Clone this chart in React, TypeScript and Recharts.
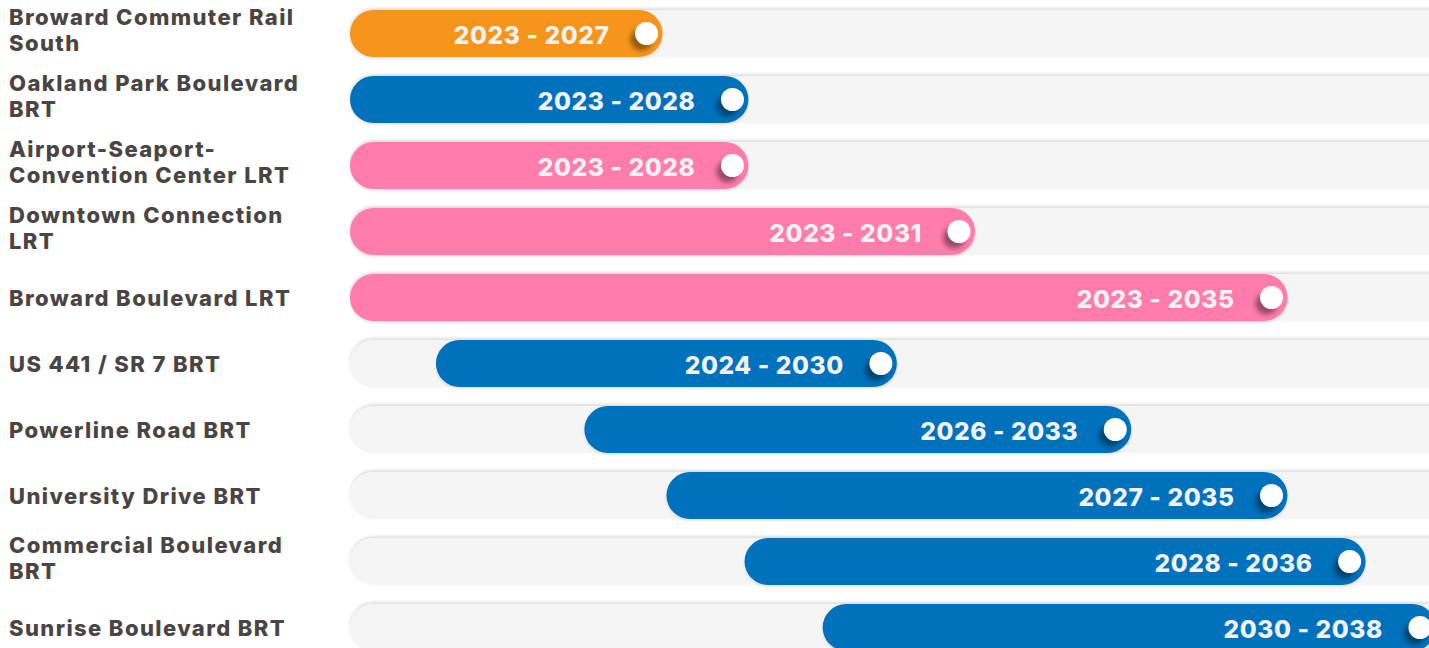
import React from 'react';
import { BarChart, Bar, XAxis, YAxis } from 'recharts';

const projects = [
  'Broward Commuter Rail\nSouth',
  'Oakland Park Boulevard\nBRT',
  'Airport-Seaport-\nConvention Center LRT',
  'Downtown Connection\nLRT',
  'Broward Boulevard LRT',
  'US 441 / SR 7 BRT',
  'Powerline Road BRT',
  'University Drive BRT',
  'Commercial Boulevard\nBRT',
  'Sunrise Boulevard BRT',
];
const rangeLabels = [
  '2023 - 2027', '2023 - 2028', '2023 - 2028', '2023 - 2031', '2023 - 2035',
  '2024 - 2030', '2026 - 2033', '2027 - 2035', '2028 - 2036', '2030 - 2038',
];
// bar extents as drawn in the picture (years)
const startYears = [2023, 2023, 2023, 2023, 2023, 2024.1, 2026, 2027.05, 2028.05, 2029.05];
const endYears = [2027, 2028.1, 2028.1, 2031, 2035, 2030, 2033, 2035, 2036, 2036.9];
const modes = ['rail', 'brt', 'lrt', 'lrt', 'lrt', 'brt', 'brt', 'brt', 'brt', 'brt'];

const modeColors: Record<string, string> = {
  rail: '#f7941d',
  brt: '#0071bc',
  lrt: '#ff7bac',
};

const data = projects.map((name, i) => ({
  name,
  range: [startYears[i], endYears[i]],
  label: rangeLabels[i],
  mode: modes[i],
}));

const NameTick = (props: any) => {
  const { y, payload } = props;
  const lines = String(payload.value).split('\n');
  const lh = 26;
  const top = lines.length > 1 ? y - 16 : y + 1;
  return (
    <text
      x={9}
      y={top}
      fill="#4a4545"
      fontFamily="Inter, 'Noto Sans', sans-serif"
      fontWeight={800}
      fontSize={22}
      letterSpacing={1.4}
      dominantBaseline="central"
    >
      {lines.map((l, k) => (
        <tspan key={k} x={9} y={top + k * lh} dominantBaseline="central">
          {l}
        </tspan>
      ))}
    </text>
  );
};

const Track = (props: any) => {
  const { x, y, width, height } = props;
  return (
    <rect
      x={x}
      y={y}
      width={width}
      height={height}
      rx={height / 2}
      fill="#f5f5f5"
      filter="url(#trackShadow)"
    />
  );
};

const RangeBar = (props: any) => {
  const { x, y, width, height, payload } = props;
  const r = height / 2;
  const cy = y + r;
  const knobX = x + width - 16;
  return (
    <g>
      <rect
        x={x}
        y={y}
        width={width}
        height={height}
        rx={r}
        fill={modeColors[payload.mode]}
        filter="url(#barShadow)"
      />
      <text
        x={knobX - 37}
        y={cy + 1}
        textAnchor="end"
        dominantBaseline="central"
        fill="#f2f2f2"
        fontFamily="Inter, 'Noto Sans', sans-serif"
        fontWeight={800}
        fontSize={24.5}
        letterSpacing={0.6}
      >
        {payload.label}
      </text>
      <ellipse cx={knobX - 5} cy={cy + 6} rx={11} ry={11} fill="#000" opacity={0.4} filter="url(#knobBlur)" />
      <circle cx={knobX} cy={cy} r={11.5} fill="#ffffff" />
    </g>
  );
};

export default function App() {
  return (
    <div
      style={{
        position: 'absolute',
        left: 0,
        top: 0,
        width: 1429,
        height: 648,
        overflow: 'hidden',
        background: '#ffffff',
      }}
    >
      <svg width={0} height={0} style={{ position: 'absolute' }}>
        <defs>
          <filter id="trackShadow" x="-5%" y="-40%" width="110%" height="180%">
            <feDropShadow dx={0} dy={-1.5} stdDeviation={1.6} floodColor="#000" floodOpacity={0.16} />
          </filter>
          <filter id="barShadow" x="-5%" y="-40%" width="110%" height="180%">
            <feDropShadow dx={0} dy={1.5} stdDeviation={1.5} floodColor="#000" floodOpacity={0.12} />
          </filter>
          <filter id="knobBlur" x="-80%" y="-80%" width="260%" height="260%">
            <feGaussianBlur stdDeviation={2.5} />
          </filter>
        </defs>
      </svg>
      <BarChart
        width={1620}
        height={660}
        data={data}
        layout="vertical"
        margin={{ top: 0, right: 20, left: 0, bottom: 0 }}
        barSize={47}
      >
        <XAxis type="number" domain={[2023, 2039]} hide allowDataOverflow />
        <YAxis
          type="category"
          dataKey="name"
          width={350}
          axisLine={false}
          tickLine={false}
          interval={0}
          tick={<NameTick />}
        />
        <Bar
          dataKey="range"
          isAnimationActive={false}
          background={(p: any) => <Track {...p} />}
          shape={(p: any) => <RangeBar {...p} />}
        />
      </BarChart>
    </div>
  );
}
